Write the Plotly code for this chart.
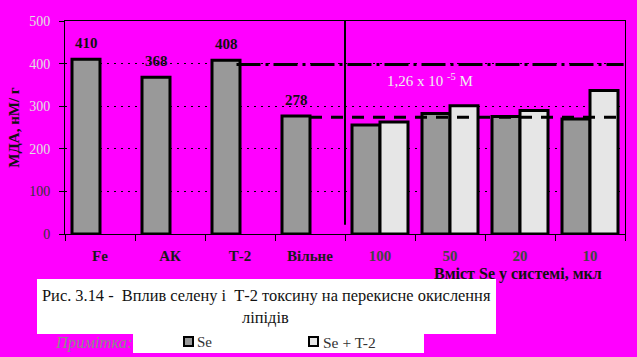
import plotly.graph_objects as go

# ---------------- data ----------------
CATEGORIES = ["Fe", "АК", "Т-2", "Вільне", "100", "50", "20", "10"]
SE_VALUES = [410, 368, 408, 277, 256, 283, 276, 270]
SE_T2_VALUES = [None, None, None, None, 263, 301, 290, 337]
VALUE_LABELS = ["410", "368", "408", "278", None, None, None, None]
Y_TICKS = [0, 100, 200, 300, 400, 500]
REF_DASHDOT = 398
REF_DASH = 274
SERIES_NAMES = ["Se", "Se + T-2"]

# ---------------- style ----------------
W, H = 637, 357
L, R, T, B = 65, 12, 21, 123
BG = "#ff00ff"
C_SE = "#999999"
C_SE_T2 = "#e6e6e6"
FONT = "Liberation Serif, Times New Roman, serif"

def px_x(x):
    return (x - L) / (W - L - R)

def px_y(y):
    return (H - B - y) / (H - T - B)

fig = go.Figure()
fig.add_bar(x=CATEGORIES, y=SE_VALUES, name=SERIES_NAMES[0],
            marker=dict(color=C_SE, line=dict(color="black", width=3)))
fig.add_bar(x=CATEGORIES, y=SE_T2_VALUES, name=SERIES_NAMES[1],
            marker=dict(color=C_SE_T2, line=dict(color="black", width=3)))

ytext = []
for v in Y_TICKS:
    col = "#e0e0e0" if v >= 200 else "#333333"
    ytext.append(f"<span style='color:{col}'>{v}</span>")

xtext = []
for c in CATEGORIES:
    col = "#1a1a1a" if not c.isdigit() else "#444444"
    xtext.append(f"<span style='color:{col}'>{c}</span>")

fig.update_layout(
    width=W, height=H, autosize=False,
    margin=dict(l=L, r=R, t=T, b=B, pad=0),
    paper_bgcolor=BG, plot_bgcolor=BG,
    barmode="group", bargap=0.2, bargroupgap=0,
    showlegend=False,
    font=dict(family=FONT, color="#111111"),
    xaxis=dict(
        type="category", range=[-0.5, 7.5], tickmode="array",
        tickvals=CATEGORIES, ticktext=xtext,
        tickson="boundaries", ticks="outside", ticklen=6, tickcolor="black",
        showline=True, linecolor="black", linewidth=1, mirror=True,
        showgrid=False, automargin=False, ticklabelstandoff=8,
        tickfont=dict(family=FONT, size=15, color="#111111", weight="bold"),
    ),
    yaxis=dict(
        range=[0, 500], tickmode="array", tickvals=Y_TICKS, ticktext=ytext,
        ticks="outside", ticklen=5, tickcolor="black",
        showline=True, linecolor="black", linewidth=1, mirror=True,
        showgrid=True, gridcolor="black", gridwidth=1, griddash="2px,5px",
        zeroline=False, automargin=False, ticklabelstandoff=6,
        tickfont=dict(family=FONT, size=14),
        title=dict(text="<b>МДА, нМ/ г</b>", standoff=5,
                   font=dict(family=FONT, size=15, color="#111111")),
    ),
)

shapes = []
shapes.append(dict(type="line", xref="x", yref="y", x0=1.95, x1=7.48,
                   y0=REF_DASHDOT, y1=REF_DASHDOT,
                   line=dict(color="black", width=3, dash="24px,5px,3px,5px"), layer="above"))
shapes.append(dict(type="line", xref="x", yref="y", x0=3.0, x1=7.53,
                   y0=REF_DASH, y1=REF_DASH,
                   line=dict(color="black", width=3, dash="12px,9px"), layer="above"))
shapes.append(dict(type="line", xref="x", yref="y", x0=3.5, x1=3.5,
                   y0=22, y1=500, line=dict(color="black", width=2), layer="above"))
shapes.append(dict(type="rect", xref="paper", yref="paper",
                   x0=px_x(37), x1=px_x(496), y0=px_y(334), y1=px_y(279),
                   fillcolor="white", line=dict(width=0), layer="above"))
shapes.append(dict(type="rect", xref="paper", yref="paper",
                   x0=px_x(133), x1=px_x(424), y0=px_y(353), y1=px_y(334),
                   fillcolor="white", line=dict(width=0), layer="above"))
for (x0, col) in [(183, C_SE), (308, C_SE_T2)]:
    shapes.append(dict(type="rect", xref="paper", yref="paper",
                       x0=px_x(x0 + 1), x1=px_x(x0 + 10), y0=px_y(346), y1=px_y(337),
                       fillcolor=col, line=dict(color="black", width=2), layer="above"))
fig.update_layout(shapes=shapes)

ann = []
for c, v, lab in zip(CATEGORIES, SE_VALUES, VALUE_LABELS):
    if lab is None:
        continue
    ann.append(dict(x=c, y=v, xref="x", yref="y", text=lab, showarrow=False,
                    xshift=-14, yshift=16, xanchor="center", yanchor="middle",
                    font=dict(family=FONT, size=15, color="#111111", weight="bold")))
ann.append(dict(x=4.71, y=362, xref="x", yref="y", xanchor="center", yanchor="middle",
                text="1,26 x 10 <sup>-5</sup> M", showarrow=False,
                font=dict(family=FONT, size=15, color="#f0f0f0")))
ann.append(dict(x=px_x(518), y=px_y(274), xref="paper", yref="paper",
                xanchor="center", yanchor="middle",
                text="<b>Вміст Se у системі, мкл</b>", showarrow=False,
                font=dict(family=FONT, size=16, color="#111111")))
ann.append(dict(x=px_x(40), y=px_y(295), xref="paper", yref="paper",
                xanchor="left", yanchor="middle",
                text="Рис. 3.14 -\u00a0 Вплив селену і\u00a0 Т-2 токсину на перекисне окислення",
                showarrow=False, font=dict(family=FONT, size=16.4, color="#111111")))
ann.append(dict(x=px_x(265), y=px_y(317), xref="paper", yref="paper",
                xanchor="center", yanchor="middle",
                text="ліпідів", showarrow=False,
                font=dict(family=FONT, size=16.4, color="#111111")))
ann.append(dict(x=px_x(94), y=px_y(342), xref="paper", yref="paper",
                xanchor="center", yanchor="middle",
                text="<i>Примітка:</i>", showarrow=False,
                font=dict(family=FONT, size=16.5, color="#8a8a8a")))
ann.append(dict(x=px_x(195), y=px_y(342), xref="paper", yref="paper",
                xanchor="left", yanchor="middle",
                text=SERIES_NAMES[0], showarrow=False,
                font=dict(family=FONT, size=15, color="#333333")))
ann.append(dict(x=px_x(321), y=px_y(342), xref="paper", yref="paper",
                xanchor="left", yanchor="middle",
                text=SERIES_NAMES[1], showarrow=False,
                font=dict(family=FONT, size=15.5, color="#333333")))
fig.update_layout(annotations=ann)

fig.write_html("out.html", config={"displayModeBar": False},
               post_script="document.body.style.margin='0';document.body.style.background='#ff00ff';")
